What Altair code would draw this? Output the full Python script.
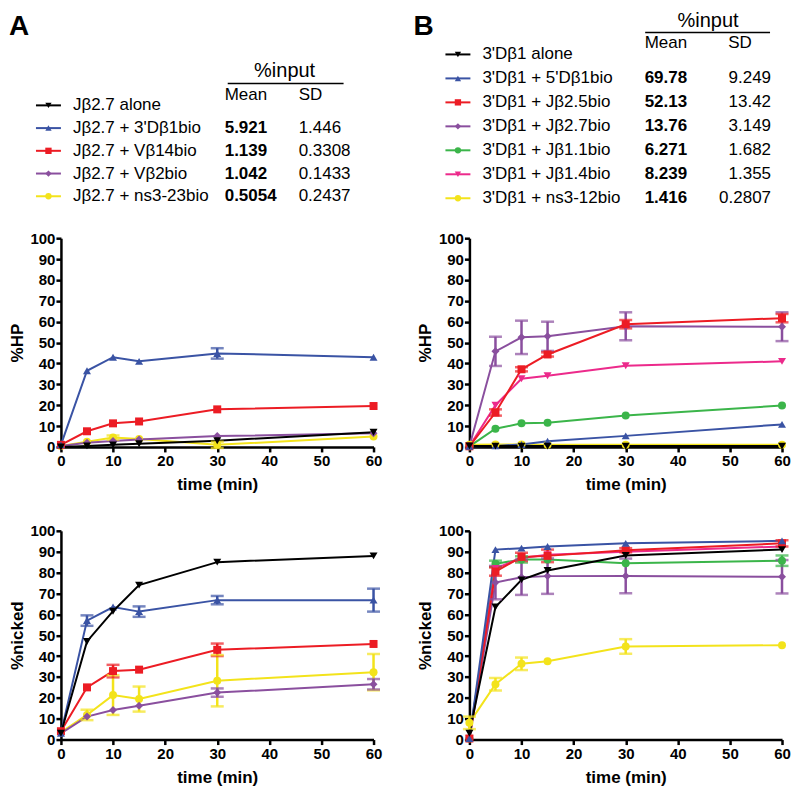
import altair as alt
import pandas as pd

FONT = "Liberation Sans"
TIME = [0, 5, 10, 15, 30, 60]

# ---------------- Panel A legend table ----------------
A_LABELS = ["Jβ2.7 alone", "Jβ2.7 + 3'Dβ1bio", "Jβ2.7 + Vβ14bio", "Jβ2.7 + Vβ2bio", "Jβ2.7 + ns3-23bio"]
A_MEAN = ["", "5.921", "1.139", "1.042", "0.5054"]
A_SD = ["", "1.446", "0.3308", "0.1433", "0.2437"]

# ---------------- Panel B legend table ----------------
B_LABELS = ["3'Dβ1 alone", "3'Dβ1 + 5'Dβ1bio", "3'Dβ1 + Jβ2.5bio", "3'Dβ1 + Jβ2.7bio",
            "3'Dβ1 + Jβ1.1bio", "3'Dβ1 + Jβ1.4bio", "3'Dβ1 + ns3-12bio"]
B_MEAN = ["", "69.78", "52.13", "13.76", "6.271", "8.239", "1.416"]
B_SD = ["", "9.249", "13.42", "3.149", "1.682", "1.355", "0.2807"]

# ---------------- Panel A %HP ----------------
A_HP_ALONE = [0, 0.5, 1, 1.5, 3, 7]
A_HP_3DB1 = [1, 36.5, 43, 41, 44.8, 43]
A_HP_VB14 = [1, 7.5, 11.3, 12.2, 18, 19.6]
A_HP_VB2 = [0.5, 2, 2.8, 3.6, 5.2, 6.5]
A_HP_NS323 = [0.5, 2.5, 4.5, 3.8, 1, 5]
A_HP_ERR_ALONE = [0, 0, 0, 0, 0, 0]
A_HP_ERR_3DB1 = [0, 0, 0, 0, 2.5, 0]
A_HP_ERR_VB14 = [0, 0, 0, 0, 0, 0]
A_HP_ERR_VB2 = [0, 0, 0, 0, 0, 0]
A_HP_ERR_NS323 = [0, 0, 1, 0, 1.5, 0]

# ---------------- Panel A %nicked ----------------
A_NK_ALONE = [3, 47, 61.5, 74, 85, 88]
A_NK_3DB1 = [3, 57, 63.5, 61.3, 66.8, 66.8]
A_NK_VB14 = [4, 25, 32.8, 33.5, 43, 45.8]
A_NK_VB2 = [3, 11, 14.2, 16.2, 22.5, 26.5]
A_NK_NS323 = [3.5, 11.8, 21.3, 19.4, 28.2, 32.3]
A_NK_ERR_ALONE = [0, 0, 0, 0, 0, 0]
A_NK_ERR_3DB1 = [0, 2.5, 0, 2.5, 2, 5.5]
A_NK_ERR_VB14 = [0, 0, 3, 0, 3, 0]
A_NK_ERR_VB2 = [0, 0, 0, 0, 2, 2.5]
A_NK_ERR_NS323 = [0, 2.5, 9.5, 6, 12.3, 8.7]

# ---------------- Panel B %HP ----------------
B_HP_ALONE = [0.5, 0.4, 0.4, 0.4, 0.4, 0.4]
B_HP_5DB1 = [0.3, 0.5, 1.2, 2.7, 5.3, 10.8]
B_HP_JB25 = [0.3, 16.5, 37.2, 44.3, 58.8, 61.7]
B_HP_JB27 = [0.3, 45.8, 52.5, 53, 57.8, 57.6]
B_HP_JB11 = [0.3, 8.7, 11.3, 11.6, 15.1, 19.8]
B_HP_JB14 = [0.3, 20, 32.7, 34.1, 38.9, 41]
B_HP_NS312 = [1, 1.2, 1.2, 1, 1, 1]
B_HP_ERR_ALONE = [0, 0, 0, 0, 0, 0]
B_HP_ERR_5DB1 = [0, 0, 0, 0, 0, 0]
B_HP_ERR_JB25 = [0, 1.5, 1, 1, 2, 2]
B_HP_ERR_JB27 = [0, 7, 8, 7, 6.7, 6.9]
B_HP_ERR_JB11 = [0, 0, 0, 0, 0, 0]
B_HP_ERR_JB14 = [0, 0, 0, 0, 0, 0]
B_HP_ERR_NS312 = [0, 0, 0, 0, 0, 0]

# ---------------- Panel B %nicked ----------------
B_NK_ALONE = [3, 63.5, 76.5, 81, 88.2, 91]
B_NK_5DB1 = [0.5, 91, 91.7, 92.5, 94, 95.2]
B_NK_JB25 = [0.5, 80.5, 87.5, 88, 90.7, 94]
B_NK_JB27 = [0.5, 75.2, 77.8, 78.3, 78.4, 78]
B_NK_JB11 = [0.5, 84.2, 86.3, 86.3, 84.5, 85.7]
B_NK_JB14 = [0.5, 82, 87, 88.5, 90, 92.5]
B_NK_NS312 = [8, 26.5, 36.3, 37.5, 44.6, 45.2]
B_NK_ERR_ALONE = [0, 0, 0, 0, 0, 0]
B_NK_ERR_5DB1 = [0, 0, 0, 0, 0, 0]
B_NK_ERR_JB25 = [0, 2, 2, 3, 1, 1.5]
B_NK_ERR_JB27 = [0, 8, 8.5, 8.5, 8.3, 8]
B_NK_ERR_JB11 = [0, 1.5, 1.5, 0, 0, 2.5]
B_NK_ERR_JB14 = [0, 0, 0, 0, 0, 0]
B_NK_ERR_NS312 = [3, 3, 3, 0, 3.5, 0]

# ---------------- styles ----------------
BLACK, BLUE, RED, PURPLE = "#000000", "#3a53a4", "#ec1c24", "#8a4f9e"
GREEN, PINK, YELLOW = "#3bb54a", "#ec2a8b", "#f3e31b"
A_COLORS = [BLACK, BLUE, RED, PURPLE, YELLOW]
A_SHAPES = ["triangle-down", "triangle-up", "square", "diamond", "circle"]
B_COLORS = [BLACK, BLUE, RED, PURPLE, GREEN, PINK, YELLOW]
B_SHAPES = ["triangle-down", "triangle-up", "square", "diamond", "circle", "triangle-down", "circle"]

W = 313
H = 209
LEG_H = 146
LEG_FS = 17


def make_df(names, means, errs, draw_order):
    rows = []
    for k in draw_order:
        for t, v, s in zip(TIME, means[k], errs[k]):
            rows.append({"series": names[k], "time": t, "value": v,
                         "lo": v - s, "hi": v + s, "err": s})
    return pd.DataFrame(rows)


def panel(df, names, colors, shapes, ytitle):
    xs = alt.Scale(domain=[0, 60], nice=False, zero=False)
    ys = alt.Scale(domain=[0, 100], nice=False)
    xaxis = alt.Axis(values=[0, 10, 20, 30, 40, 50, 60], title="time (min)",
                     labelFlush=False, labelOverlap=False, labelPadding=2,
                     titleX=W / 2, titleY=38, titleAlign="center", titleBaseline="middle")
    yaxis = alt.Axis(values=list(range(0, 101, 10)), title=ytitle,
                     labelOverlap=False, labelPadding=1, titleX=-43.5, titleY=H / 2,
                     titleAngle=270, titleAlign="center", titleBaseline="middle")
    x = alt.X("time:Q", scale=xs, axis=xaxis)
    y = alt.Y("value:Q", scale=ys, axis=yaxis)
    ylo = alt.Y("lo:Q", scale=ys, axis=yaxis)
    yhi = alt.Y("hi:Q", scale=ys, axis=yaxis)
    color = alt.Color("series:N", scale=alt.Scale(domain=names, range=colors), legend=None)
    shape = alt.Shape("series:N", scale=alt.Scale(domain=names, range=shapes), legend=None)
    base = alt.Chart(df)
    lines = base.mark_line(strokeWidth=2).encode(x=x, y=y, color=color, order="time:Q")
    ebase = alt.Chart(df[df["err"] > 0])
    bars = ebase.mark_rule(strokeWidth=2.5).encode(x=x, y=ylo, y2="hi:Q", color=color)
    cap_lo = ebase.mark_tick(orient="horizontal", size=13, thickness=2.5).encode(
        x=x, y=ylo, color=color)
    cap_hi = ebase.mark_tick(orient="horizontal", size=13, thickness=2.5).encode(
        x=x, y=yhi, color=color)
    pts = base.mark_point(filled=True, size=64, opacity=1).encode(
        x=x, y=y, color=color, shape=shape)
    return alt.layer(lines, bars, cap_lo, cap_hi, pts).properties(width=W, height=H)


def text_layer(xs, ys, texts, align, bold=False, size=LEG_FS):
    df = pd.DataFrame({"x": xs, "y": ys, "t": texts})
    return alt.Chart(df).mark_text(
        align=align, baseline="middle", font=FONT, fontSize=size,
        fontWeight="bold" if bold else "normal", color="black").encode(
        x=alt.X("x:Q", scale=None, axis=None), y=alt.Y("y:Q", scale=None, axis=None),
        text="t:N")


def legend(letter, letter_x, labels, means, sds, colors, shapes, geo):
    n = len(labels)
    ys = [geo["row0"] + i * geo["step"] for i in range(n)]
    px = alt.X("x:Q", scale=None, axis=None)
    py = alt.Y("y:Q", scale=None, axis=None)
    sym = pd.DataFrame({"x": [geo["sym_c"]] * n, "x1": [geo["sym_l"]] * n,
                        "x2": [geo["sym_r"]] * n, "y": ys,
                        "color": colors, "shape": shapes})
    seg = alt.Chart(sym).mark_rule(strokeWidth=2).encode(
        x=alt.X("x1:Q", scale=None, axis=None), x2="x2:Q", y=py,
        color=alt.Color("color:N", scale=None))
    mk = alt.Chart(sym).mark_point(filled=True, size=40, opacity=1).encode(
        x=px, y=py, color=alt.Color("color:N", scale=None),
        shape=alt.Shape("shape:N", scale=None))
    lab = text_layer([geo["lab_x"]] * n, ys, labels, "left")
    mn = text_layer([geo["mean_x"]] * n, ys, means, geo["mean_align"], bold=True)
    sd = text_layer([geo["sd_x"]] * n, ys, sds, geo["sd_align"])
    hdr_pct = text_layer([geo["pct_x"]], [geo["pct_y"]], ["%input"], "center", size=20)
    hdr_mean = text_layer([geo["meanh_x"]], [geo["hdr_y"]], ["Mean"], geo["meanh_align"])
    hdr_sd = text_layer([geo["sdh_x"]], [geo["hdr_y"]], ["SD"], geo["sdh_align"])
    uline = alt.Chart(pd.DataFrame({"x1": [geo["ul_l"]], "x2": [geo["ul_r"]], "y": [geo["ul_y"]]})).mark_rule(
        strokeWidth=1.5, color="black").encode(
        x=alt.X("x1:Q", scale=None, axis=None), x2="x2:Q", y=py)
    let = alt.Chart(pd.DataFrame({"x": [letter_x], "y": [5], "t": [letter]})).mark_text(
        align="left", baseline="top", font=FONT, fontSize=28, fontWeight="bold",
        color="black").encode(x=px, y=py, text="t:N")
    return alt.layer(seg, mk, lab, mn, sd, hdr_pct, hdr_mean, hdr_sd, uline, let).properties(
        width=W, height=LEG_H)


GEO_A = dict(row0=97, step=22.75, sym_l=-25, sym_r=0, sym_c=-12.5, lab_x=12,
             mean_x=164, mean_align="left", sd_x=238, sd_align="left",
             pct_x=224, pct_y=63, hdr_y=87, meanh_x=164, meanh_align="left",
             sdh_x=238, sdh_align="left", ul_l=167, ul_r=283, ul_y=75)
GEO_B = dict(row0=46, step=24, sym_l=-24, sym_r=1, sym_c=-11.5, lab_x=13,
             mean_x=218, mean_align="right", sd_x=302, sd_align="right",
             pct_x=239, pct_y=13, hdr_y=35, meanh_x=218, meanh_align="right",
             sdh_x=271, sdh_align="center", ul_l=176, ul_r=301, ul_y=24)

leg_a = legend("A", -52, A_LABELS, A_MEAN, A_SD, A_COLORS, A_SHAPES, GEO_A)
leg_b = legend("B", -56, B_LABELS, B_MEAN, B_SD, B_COLORS, B_SHAPES, GEO_B)

A_ORDER = [4, 3, 2, 1, 0]
B_ORDER = [6, 4, 3, 5, 2, 1, 0]

hp_a = panel(make_df(A_LABELS,
                     [A_HP_ALONE, A_HP_3DB1, A_HP_VB14, A_HP_VB2, A_HP_NS323],
                     [A_HP_ERR_ALONE, A_HP_ERR_3DB1, A_HP_ERR_VB14, A_HP_ERR_VB2, A_HP_ERR_NS323],
                     A_ORDER), A_LABELS, A_COLORS, A_SHAPES, "%HP")
nk_a = panel(make_df(A_LABELS,
                     [A_NK_ALONE, A_NK_3DB1, A_NK_VB14, A_NK_VB2, A_NK_NS323],
                     [A_NK_ERR_ALONE, A_NK_ERR_3DB1, A_NK_ERR_VB14, A_NK_ERR_VB2, A_NK_ERR_NS323],
                     A_ORDER), A_LABELS, A_COLORS, A_SHAPES, "%nicked")
hp_b = panel(make_df(B_LABELS,
                     [B_HP_ALONE, B_HP_5DB1, B_HP_JB25, B_HP_JB27, B_HP_JB11, B_HP_JB14, B_HP_NS312],
                     [B_HP_ERR_ALONE, B_HP_ERR_5DB1, B_HP_ERR_JB25, B_HP_ERR_JB27, B_HP_ERR_JB11,
                      B_HP_ERR_JB14, B_HP_ERR_NS312],
                     B_ORDER), B_LABELS, B_COLORS, B_SHAPES, "%HP")
nk_b = panel(make_df(B_LABELS,
                     [B_NK_ALONE, B_NK_5DB1, B_NK_JB25, B_NK_JB27, B_NK_JB11, B_NK_JB14, B_NK_NS312],
                     [B_NK_ERR_ALONE, B_NK_ERR_5DB1, B_NK_ERR_JB25, B_NK_ERR_JB27, B_NK_ERR_JB11,
                      B_NK_ERR_JB14, B_NK_ERR_NS312],
                     B_ORDER), B_LABELS, B_COLORS, B_SHAPES, "%nicked")

chart = alt.concat(leg_a, leg_b, hp_a, hp_b, nk_a, nk_b, columns=2,
                   spacing={"row": 84, "column": 96},
                   bounds="flush", align="each").resolve_scale(
    color="independent", shape="independent", x="independent", y="independent"
).properties(padding={"left": 0, "top": 0, "right": 0, "bottom": 0}).configure_view(
    stroke=None).configure_axis(
    grid=False, domainColor="black", domainWidth=2.5, tickColor="black", tickWidth=2.5,
    tickSize=5, labelFont=FONT, labelFontSize=15, labelFontWeight="bold", labelColor="black",
    titleFont=FONT, titleFontSize=17, titleFontWeight="bold", titleColor="black")

chart.save("out.html", embed_options={"renderer": "svg", "actions": False})
